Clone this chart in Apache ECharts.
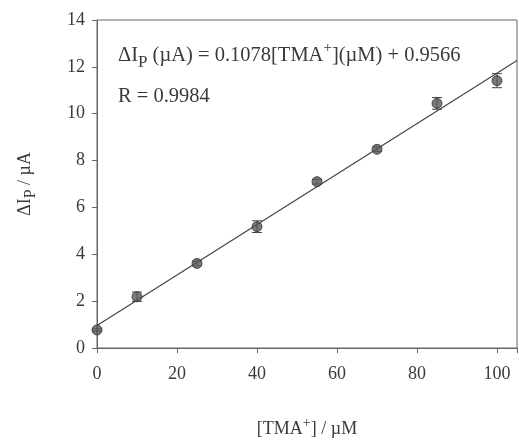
<!DOCTYPE html>
<html>
<head>
<meta charset="utf-8">
<script src="https://cdn.jsdelivr.net/npm/echarts@6/dist/echarts.min.js"></script>
<style>html,body{margin:0;padding:0;background:#fff}#c{width:519px;height:440px}</style>
</head>
<body>
<div id="c"></div>
<script>
// Data
const concentrations = [0, 10, 25, 40, 55, 70, 85, 100];
const currents = [0.77, 2.19, 3.61, 5.18, 7.10, 8.48, 10.44, 11.41];
const errors = [0.05, 0.2, 0.1, 0.25, 0.1, 0.1, 0.25, 0.3];
const fitSlope = 0.1078;
const fitIntercept = 0.9566;
const fitRange = [0, 105];
const xTicks = [0, 20, 40, 60, 80, 100];
const yTicks = [0, 2, 4, 6, 8, 10, 12, 14];

const FONT = '"Liberation Serif", "DejaVu Serif", serif';
const TXT = '#3a3a3a';
const AX = '#666';

const points = concentrations.map((x, i) => [x, currents[i]]);
const errData = concentrations.map((x, i) => [x, currents[i] - errors[i], currents[i] + errors[i]]);
const fitLine = fitRange.map(x => [x, fitSlope * x + fitIntercept]);

const chart = echarts.init(document.getElementById('c'), null, {renderer: 'canvas'});
chart.setOption({
  animation: false,
  backgroundColor: '#fff',
  grid: {left: 97, right: 2, top: 20, bottom: 92, show: true, borderColor: AX, borderWidth: 1,
         containLabel: false, outerBoundsMode: 'none'},
  xAxis: {
    type: 'value', min: 0, max: 105, interval: 20,
    axisLine: {show: true, lineStyle: {color: AX, width: 1}},
    axisTick: {show: true, inside: false, length: 5, lineStyle: {color: AX}},
    splitLine: {show: false},
    axisLabel: {
      margin: 17, color: TXT, fontFamily: FONT, fontSize: 18,
      formatter: v => xTicks.includes(v) ? String(v) : ''
    },
    name: '{a|[TMA}{s|+}{a|] / µM}',
    nameLocation: 'middle', nameGap: 68,
    nameTextStyle: {
      fontFamily: FONT, color: TXT,
      rich: {
        a: {fontFamily: FONT, fontSize: 18, color: TXT, lineHeight: 26},
        s: {fontFamily: FONT, fontSize: 14, color: TXT, lineHeight: 13, verticalAlign: 'top'}
      }
    }
  },
  yAxis: {
    type: 'value', min: 0, max: 14, interval: 2,
    axisLine: {show: true, lineStyle: {color: AX, width: 1}},
    axisTick: {show: true, inside: false, length: 5, lineStyle: {color: AX}},
    splitLine: {show: false},
    axisLabel: {
      margin: 12, color: TXT, fontFamily: FONT, fontSize: 18,
      formatter: v => yTicks.includes(v) ? String(v) : ''
    },
    name: '{a|ΔI}{p|P}{a| / µA}',
    nameLocation: 'middle', nameGap: 58, nameRotate: 90,
    nameTextStyle: {
      fontFamily: FONT, color: TXT,
      rich: {
        a: {fontFamily: FONT, fontSize: 18, color: TXT, lineHeight: 28},
        p: {fontFamily: FONT, fontSize: 16, color: TXT, lineHeight: 15, verticalAlign: 'bottom'}
      }
    }
  },
  graphic: [
    {
      type: 'text', left: 118, top: 41, z: 10,
      style: {
        text: '{a|ΔI}{p|P}{a| (µA) = 0.1078[TMA}{s|+}{a|](µM) + 0.9566}',
        rich: {
          a: {fontFamily: FONT, fontSize: 20.5, fill: TXT, lineHeight: 30},
          p: {fontFamily: FONT, fontSize: 17, fill: TXT, lineHeight: 15, verticalAlign: 'bottom'},
          s: {fontFamily: FONT, fontSize: 15, fill: TXT, lineHeight: 13, verticalAlign: 'top'}
        }
      }
    },
    {
      type: 'text', left: 118, top: 86, z: 10,
      style: {text: 'R = 0.9984', font: '20.5px ' + FONT, fill: TXT}
    }
  ],
  series: [
    {
      type: 'line', data: fitLine, symbol: 'none',
      lineStyle: {color: '#444', width: 1.2}, z: 2
    },
    {
      type: 'custom', z: 3,
      data: errData,
      renderItem: function (params, api) {
        const x = api.value(0);
        const lo = api.coord([x, api.value(1)]);
        const hi = api.coord([x, api.value(2)]);
        const w = 5;
        const st = {stroke: '#444', lineWidth: 1};
        return {
          type: 'group',
          children: [
            {type: 'line', shape: {x1: lo[0], y1: lo[1], x2: hi[0], y2: hi[1]}, style: st},
            {type: 'line', shape: {x1: lo[0] - w, y1: lo[1], x2: lo[0] + w, y2: lo[1]}, style: st},
            {type: 'line', shape: {x1: hi[0] - w, y1: hi[1], x2: hi[0] + w, y2: hi[1]}, style: st}
          ]
        };
      }
    },
    {
      type: 'scatter', data: points, symbol: 'circle', symbolSize: 10, z: 4,
      itemStyle: {color: '#585858', borderColor: '#333', borderWidth: 1}
    }
  ]
});
</script>
</body>
</html>
